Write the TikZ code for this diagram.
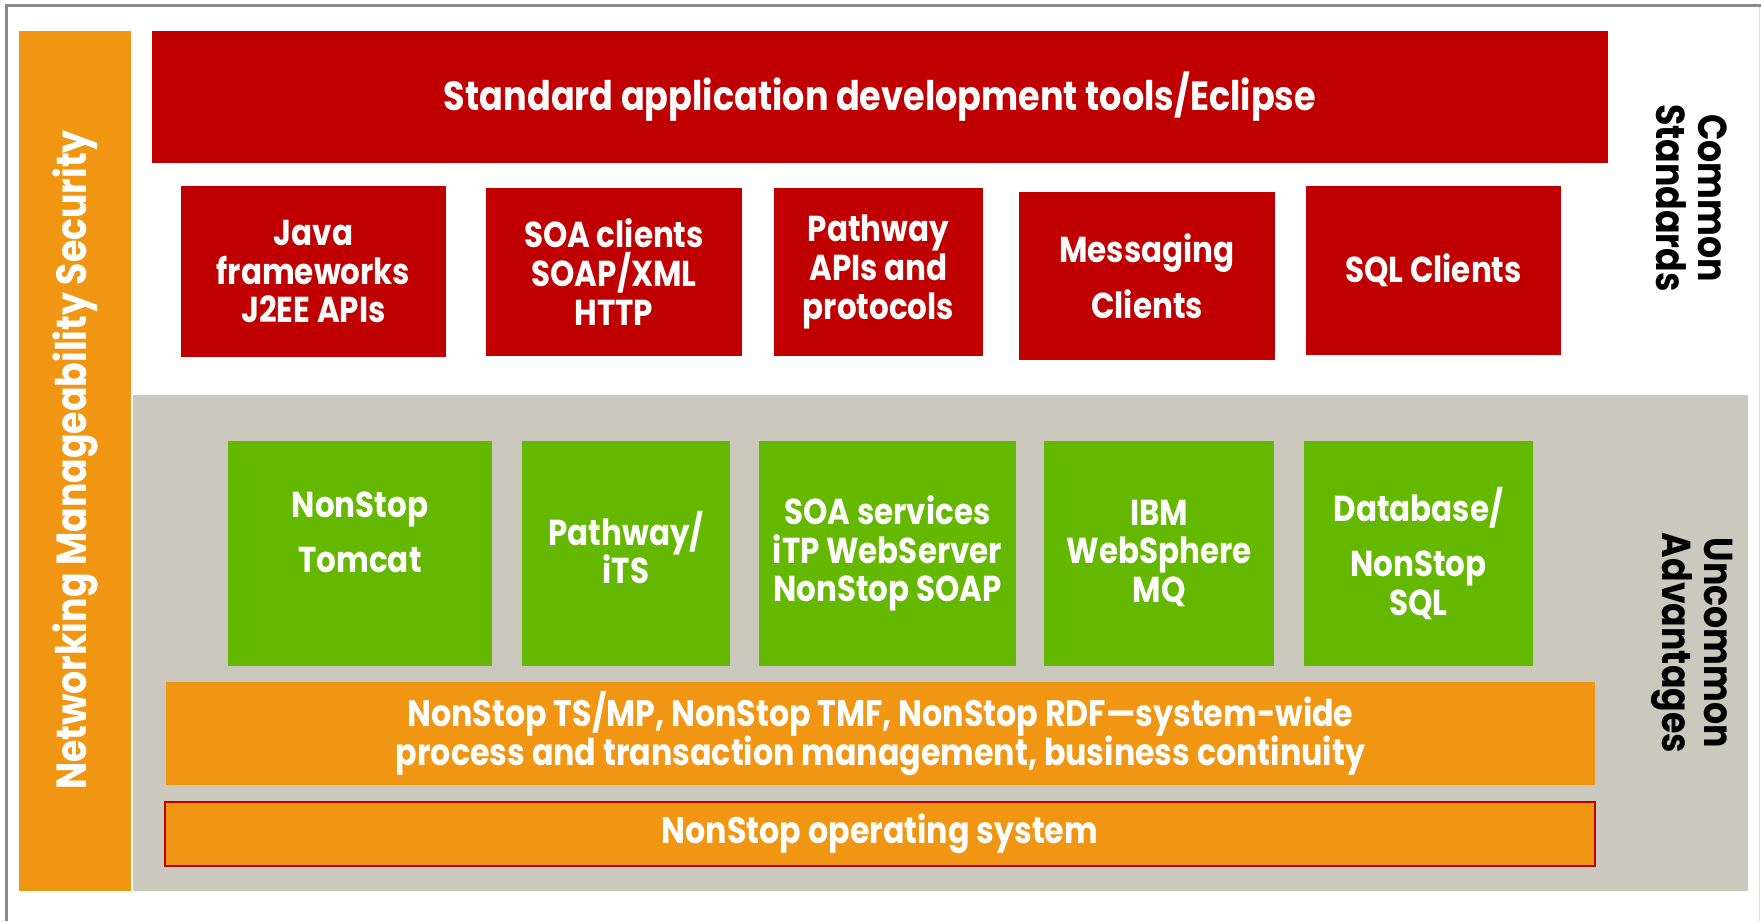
\documentclass[tikz,border=0pt]{standalone}
\usepackage{fontspec}
\setmainfont{Poppins}[FakeStretch=0.86]
\definecolor{hpred}{RGB}{192,0,0}
\definecolor{hporange}{RGB}{240,150,18}
\definecolor{hpgreen}{RGB}{100,184,0}
\definecolor{hpgray}{RGB}{203,201,190}
\definecolor{framegray}{RGB}{137,137,137}
\newcommand{\pix}{0.02cm}

\begin{document}
\begin{tikzpicture}[x=0.02cm, y=-0.02cm,
	sz/.style 2 args={minimum width=#1*\pix, minimum height=#2*\pix},
	tile/.style={inner sep=0pt, align=center, text=white, font=\fontsize{20.5}{22}\selectfont\bfseries},
	redtile/.style={tile, fill=hpred},
	greentile/.style={tile, fill=hpgreen},
	layer/.style={tile, fill=hporange, font=\fontsize{21}{22.5}\selectfont\bfseries},
	tag/.style={inner sep=0pt, align=center, font=\fontsize{23}{24}\selectfont\bfseries}]
	\useasboundingbox (0,0) rectangle (1761,921);
	% frame and background
	\fill[hpgray] (133,395) rectangle (1748,891);
	\draw[framegray, line width=3*\pix] (6,921) -- (6,5) -- (1761,5);
	\draw[framegray!30, line width=1*\pix] (1759,7) -- (1759,921);

	\node[tile, fill=hporange, sz={112}{860}] (sec) at (75,461) {};
	\node[tag, text=white, rotate=90, font=\fontsize{24}{26}\selectfont\bfseries] (seclbl) at (75,460) {Networking Manageability Security};

	\node[redtile, sz={1456}{132}, font=\fontsize{23.2}{25}\selectfont\bfseries] (tools) at (880,97) {Standard application development tools/Eclipse};

	\node[redtile, sz={265}{171}] (java) at (313.5,271.5) {Java\\frameworks\\J2EE APIs};
	\node[redtile, sz={256}{168}] (soac) at (614,272) {SOA clients\\SOAP/XML\\HTTP};
	\node[redtile, sz={209}{168}] (pwapi) at (878.5,272) {Pathway\\APIs and\\protocols};
	\node[redtile, sz={256}{168}] (msg) at (1147,276) {Messaging\\[9pt]Clients};
	\node[redtile, sz={255}{169}] (sqlc) at (1433.5,270.5) {SQL Clients};

	\node[greentile, sz={264}{225}] (tomcat) at (360,553.5) {};
	\node[tile] (tomcatlbl) at ([yshift=0.42cm]tomcat.center) {NonStop\\[9pt]Tomcat};
	\node[greentile, sz={208}{225}] (its) at (626,553.5) {};
	\node[tile] (itslbl) at ([yshift=0.12cm]its.center) {Pathway/\\iTS};
	\node[greentile, sz={257}{225}] (soas) at (887.5,553.5) {SOA services\\iTP WebServer\\NonStop SOAP};
	\node[greentile, sz={230}{225}] (mq) at (1159,553.5) {IBM\\WebSphere\\MQ};
	\node[greentile, sz={229}{225}] (db) at (1418.5,553.5) {Database/\\[9pt]NonStop\\SQL};

	\node[layer, sz={1429}{103}] (tmf) at (880.5,733.5) {NonStop TS/MP, NonStop TMF, NonStop RDF---system-wide\\process and transaction management, business continuity};
	\node[layer, draw=hpred, line width=2*\pix, sz={1430}{64}] (os) at (880,834) {NonStop operating system};

	\node[tag, rotate=-90] (common) at (1692,198) {Common\\Standards};
	\node[tag, rotate=-90] (uncommon) at (1692,643) {Uncommon\\Advantages};
\end{tikzpicture}
\end{document}
